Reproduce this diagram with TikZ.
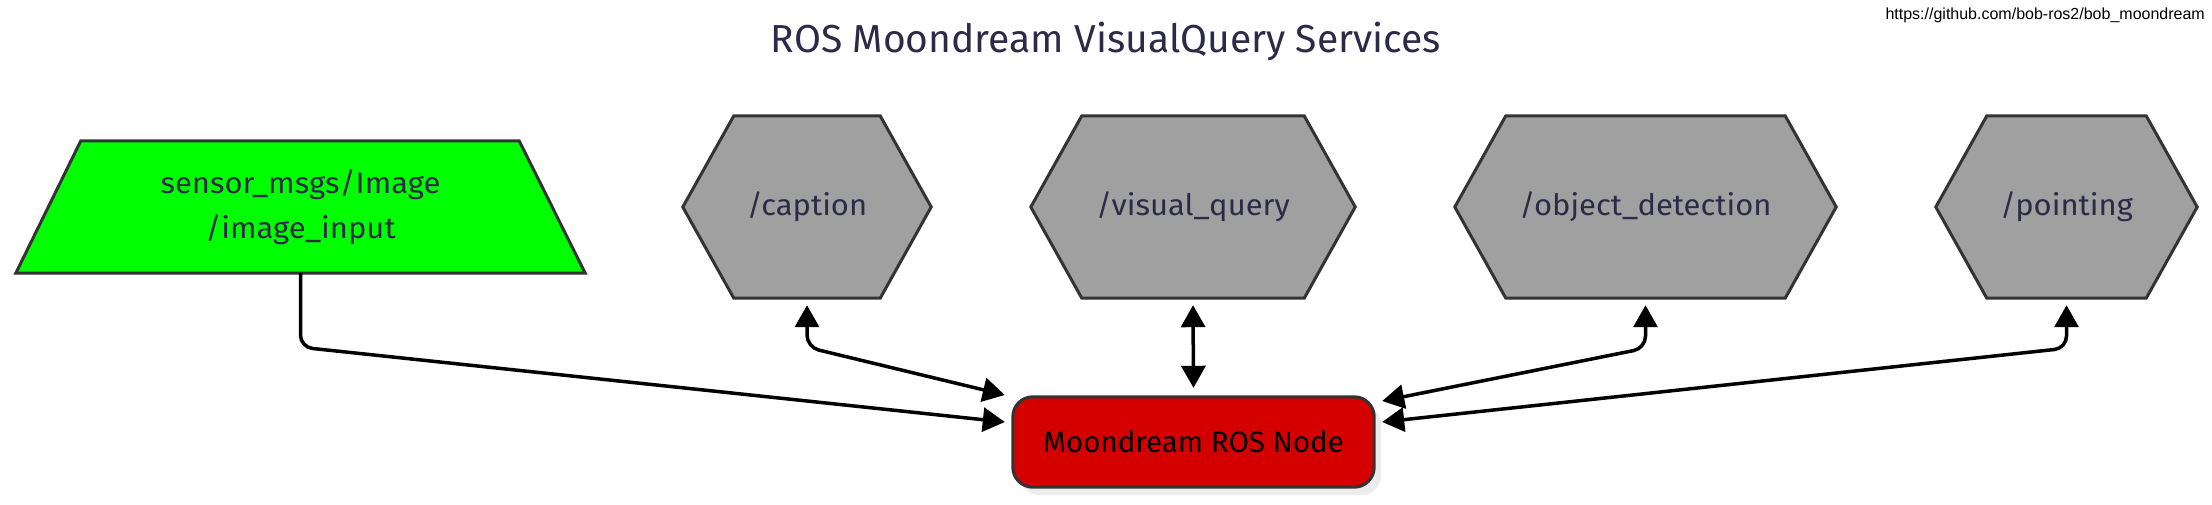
\documentclass[tikz,border=0pt]{standalone}
\usepackage{fontspec}
\setmainfont{Fira Sans}
\newfontfamily\lblfont[FakeStretch=1.05]{Fira Sans}
\newfontfamily\urlfont{Liberation Sans}
\usetikzlibrary{arrows.meta}
\pgfdeclarelayer{bg}
\pgfsetlayers{bg,main}
\definecolor{txtc}{RGB}{44,42,70}
\definecolor{bordc}{RGB}{51,51,51}
\definecolor{hexc}{RGB}{160,160,160}
\definecolor{greenc}{RGB}{0,255,0}
\definecolor{redc}{RGB}{212,0,0}
\definecolor{shadc}{RGB}{236,236,236}
\tikzset{
  lbl/.style={text=txtc, font=\lblfont\fontsize{29.5}{45}\selectfont, align=center, inner sep=0pt},
  hexbox/.style={lbl, minimum height=182pt},
  shapeline/.style={draw=bordc, line width=3pt, line join=miter},
  conn/.style={line width=3.5pt, rounded corners=12pt, -{Triangle[length=22pt,width=24pt]}},
  dconn/.style={line width=3.5pt, rounded corners=12pt, {Triangle[length=22pt,width=24pt]}-{Triangle[length=22pt,width=24pt]}},
}
\begin{document}
\begin{tikzpicture}[x=1pt,y=-1pt]
\useasboundingbox (0,0) rectangle (2212,504);
% title and url
\node[anchor=base, text=txtc, font=\fontsize{39}{44}\selectfont, inner sep=0pt] (title) at (1106,52) {ROS Moondream VisualQuery Services};
\node[anchor=base east, font=\urlfont\fontsize{16}{18}\selectfont, inner sep=0pt] (url) at (2205,19) {https://github.com/bob-ros2/bob\_moondream};
% nodes (text boxes)
\node[lbl, minimum width=569pt, minimum height=132pt] (img) at (300.5,207) {sensor\_msgs/Image\\/image\_input};
\node[hexbox, minimum width=248pt] (cap) at (807,207) {/caption};
\node[hexbox, minimum width=324pt] (vq) at (1193,207) {/visual\_query};
\node[hexbox, minimum width=381pt] (od) at (1645.5,207) {/object\_detection};
\node[hexbox, minimum width=261pt] (pt) at (2066.5,207) {/pointing};
\node[text=black, font=\fontsize{29.5}{34}\selectfont, minimum width=361pt, minimum height=90pt, inner sep=0pt] (moon) at (1193.5,442) {Moondream ROS Node};
% shapes on background
\begin{pgfonlayer}{bg}
  % trapezoid
  \begin{scope}[shift={(7pt,-8pt)}]
    \fill[shadc] (img.south west) -- ([xshift=65pt]img.north west) -- ([xshift=-66pt]img.north east) -- (img.south east) -- cycle;
  \end{scope}
  \filldraw[shapeline, fill=greenc] (img.south west) -- ([xshift=65pt]img.north west) -- ([xshift=-66pt]img.north east) -- (img.south east) -- cycle;
  % hexagons
  \foreach \n in {cap,vq,od,pt}{
    \begin{scope}[shift={(7pt,-8pt)}]
      \fill[shadc] (\n.west) -- ([xshift=51pt]\n.north west) -- ([xshift=-51pt]\n.north east) -- (\n.east) -- ([xshift=-51pt]\n.south east) -- ([xshift=51pt]\n.south west) -- cycle;
    \end{scope}
    \filldraw[shapeline, fill=hexc] (\n.west) -- ([xshift=51pt]\n.north west) -- ([xshift=-51pt]\n.north east) -- (\n.east) -- ([xshift=-51pt]\n.south east) -- ([xshift=51pt]\n.south west) -- cycle;
  }
  % moondream node
  \fill[shadc, rounded corners=20pt] ([shift={(7pt,-8pt)}]moon.south west) rectangle ([shift={(7pt,-8pt)}]moon.north east);
  \filldraw[shapeline, fill=redc, rounded corners=20pt] (moon.south west) rectangle (moon.north east);
\end{pgfonlayer}
% connectors
\coordinate (imgbend) at ([yshift=-74pt]img.south);
\draw[conn] (img.south) -- (imgbend) -- ([xshift=-8pt,yshift=20pt]moon.west);
\draw[dconn] ([yshift=-7pt]cap.south) -- ([yshift=-49pt]cap.south) -- ([xshift=-8pt,yshift=47pt]moon.west);
\draw[dconn] ([yshift=-7pt]vq.south) -- ([yshift=9pt]moon.north);
\draw[dconn] ([yshift=-7pt]od.south) -- ([yshift=-50pt]od.south) -- ([xshift=8pt,yshift=41pt]moon.east);
\draw[dconn] ([yshift=-7pt]pt.south) -- ([yshift=-50pt]pt.south) -- ([xshift=8pt,yshift=20pt]moon.east);
\end{tikzpicture}
\end{document}
